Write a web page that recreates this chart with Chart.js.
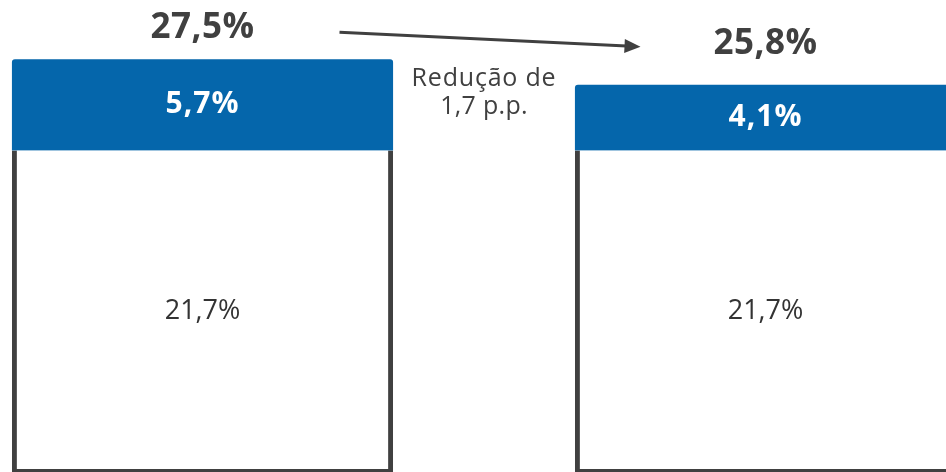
<!DOCTYPE html>
<html>
<head>
<meta charset="utf-8">
<script src="https://cdn.jsdelivr.net/npm/chart.js@4/dist/chart.umd.min.js"></script>
<style>
  html, body { margin: 0; padding: 0; background: #fff; overflow: hidden; }
  body { width: 946px; height: 472px; position: relative; }
  #wrap { position: absolute; left: -79px; top: 0; width: 1126px; height: 472px; }
</style>
</head>
<body>
<div id="wrap"><canvas id="chart"></canvas></div>
<script>
// dados
const periodos = ['Antes', 'Depois']
const base = [21.7, 21.7]
const adicional = [5.7, 4.1]
const totais = ['27,5%', '25,8%']
const rotuloBase = ['21,7%', '21,7%']
const rotuloAdicional = ['5,7%', '4,1%']
const reducao = ['Redução de', '1,7 p.p.']

const Y_MIN = 1.6
const Y_MAX = 31.1
const FONT = '"Open Sans", "Noto Sans", sans-serif'
const DARK = '#404040'

const rotulos = {
  id: 'rotulos',
  afterDatasetsDraw(chart) {
    const ctx = chart.ctx
    const metaBase = chart.getDatasetMeta(0)
    const metaAd = chart.getDatasetMeta(1)
    ctx.save()
    ctx.textAlign = 'center'
    ctx.textBaseline = 'middle'

    // base (branco)
    metaBase.data.forEach((bar, i) => {
      ctx.fillStyle = '#333'
      ctx.font = '400 27px ' + FONT
      ctx.fillText(rotuloBase[i], bar.x, (bar.y + chart.chartArea.bottom) / 2)
    })

    // adicional (azul) + totais
    const gap = [31, 41]
    const pos = []
    metaAd.data.forEach((bar, i) => {
      ctx.fillStyle = '#fff'
      ctx.font = '700 30px ' + FONT
      ctx.letterSpacing = '1px'
      ctx.fillText(rotuloAdicional[i], bar.x, (bar.y + bar.base) / 2)
      ctx.letterSpacing = '0.5px'
      ctx.fillStyle = DARK
      ctx.font = '700 35px ' + FONT
      const y = bar.y - gap[i]
      ctx.fillText(totais[i], bar.x, y)
      pos.push({ x: bar.x, y, w: bar.width })
    })
    ctx.letterSpacing = '0px'

    // seta
    const x0 = pos[0].x + 137, y0 = pos[0].y + 4
    const x1 = pos[1].x - 125, y1 = pos[1].y + 3
    const ang = Math.atan2(y1 - y0, x1 - x0)
    ctx.strokeStyle = DARK
    ctx.fillStyle = DARK
    ctx.lineWidth = 3
    ctx.beginPath()
    ctx.moveTo(x0, y0)
    ctx.lineTo(x1 - 14 * Math.cos(ang), y1 - 14 * Math.sin(ang))
    ctx.stroke()
    ctx.beginPath()
    ctx.moveTo(x1, y1)
    ctx.lineTo(x1 - 16 * Math.cos(ang) + 7 * Math.sin(ang), y1 - 16 * Math.sin(ang) - 7 * Math.cos(ang))
    ctx.lineTo(x1 - 16 * Math.cos(ang) - 7 * Math.sin(ang), y1 - 16 * Math.sin(ang) + 7 * Math.cos(ang))
    ctx.closePath()
    ctx.fill()

    // texto da reducao
    const midX = (pos[0].x + pos[0].w / 2 + pos[1].x - pos[1].w / 2) / 2
    ctx.fillStyle = DARK
    ctx.font = '400 25px ' + FONT
    ctx.letterSpacing = '0.8px'
    ctx.fillText(reducao[0], midX, 79)
    ctx.letterSpacing = '0.3px'
    ctx.fillText(reducao[1], midX, 107)
    ctx.restore()
  }
}

new Chart(document.getElementById('chart'), {
  type: 'bar',
  data: {
    labels: periodos,
    datasets: [
      {
        data: base,
        base: Y_MIN,
        backgroundColor: '#fff',
        borderColor: DARK,
        borderWidth: { left: 5, right: 5, top: 0, bottom: 3 },
        borderSkipped: false,
      },
      {
        data: adicional,
        backgroundColor: '#0566ab',
        borderColor: '#0566ab',
        borderWidth: 0,
        borderRadius: { topLeft: 3, topRight: 3 },
        borderSkipped: false,
      },
    ],
  },
  options: {
    responsive: true,
    maintainAspectRatio: false,
    animation: false,
    layout: { padding: 0 },
    datasets: { bar: { barPercentage: 0.677, categoryPercentage: 1 } },
    plugins: { legend: { display: false }, tooltip: { enabled: false } },
    scales: {
      x: { stacked: true, display: false },
      y: { stacked: true, display: false, min: Y_MIN, max: Y_MAX },
    },
  },
  plugins: [rotulos],
})
</script>
</body>
</html>
